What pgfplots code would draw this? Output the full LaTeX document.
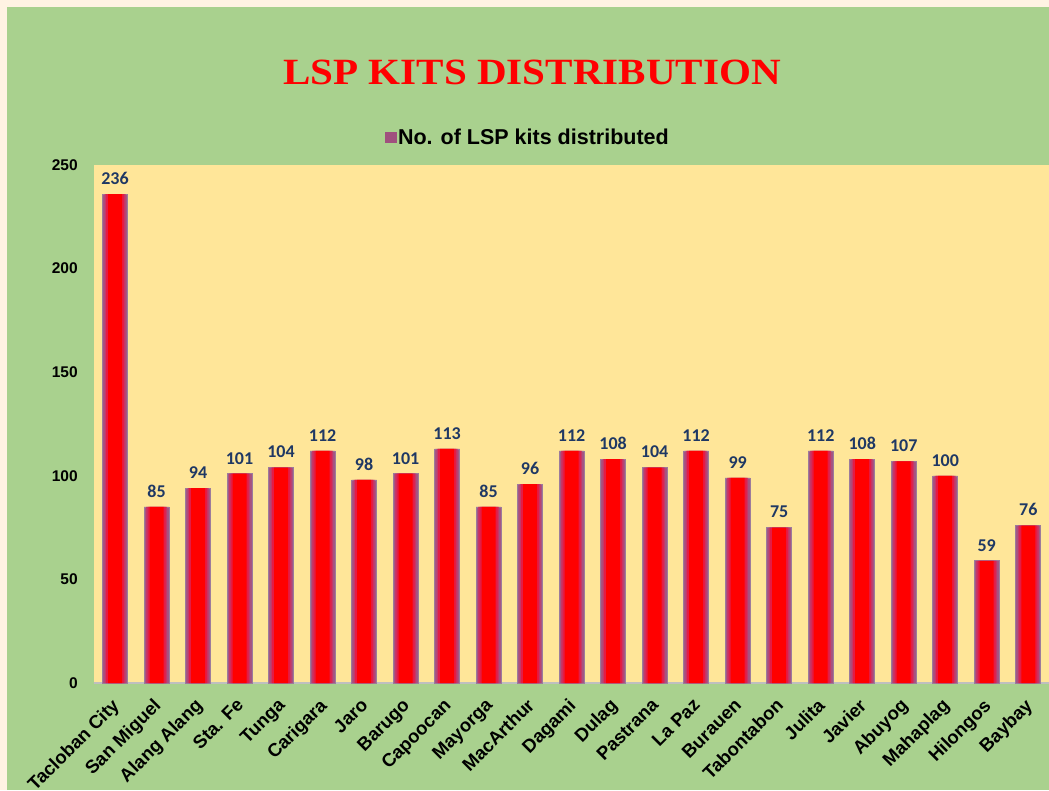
\documentclass[border=0pt]{standalone}
\usepackage{pgfplots}
\usepackage{pgfplotstable}
\pgfplotsset{compat=1.18}
\usepackage{fontspec}
\setmainfont{Liberation Sans}
\newfontfamily\titlefont{Liberation Serif}
\newfontfamily\datafont{Carlito}
\definecolor{bggreen}{HTML}{A9D18E}
\definecolor{bgcream}{HTML}{FFF3E3}
\definecolor{plotyellow}{HTML}{FFE699}
\definecolor{glowA}{HTML}{A55583}
\definecolor{glowB}{HTML}{C43868}
\definecolor{glowC}{HTML}{E31C46}
\definecolor{navy}{HTML}{1F3864}
\definecolor{legpurple}{HTML}{A0507E}
\definecolor{baredge}{HTML}{9C7B9C}
\pgfplotstableread{
x y
0 236
1 85
2 94
3 101
4 104
5 112
6 98
7 101
8 113
9 85
10 96
11 112
12 108
13 104
14 112
15 99
16 75
17 112
18 108
19 107
20 100
21 59
22 76
}\kits

\begin{document}
\begin{tikzpicture}
\path[use as bounding box] (0pt,0pt) rectangle (1049pt,790pt);
\fill[bgcream] (0pt,0pt) rectangle (1049pt,790pt);
\fill[bggreen] (7pt,0pt) rectangle (1049pt,783pt);
\node[text=red, font=\titlefont\bfseries\fontsize{37}{40}\selectfont] at (532pt,718pt) {\scalebox{1.11}[1]{LSP KITS DISTRIBUTION}};
\begin{axis}[
  at={(94.25pt,107pt)}, anchor=south west,
  scale only axis, width=954.75pt, height=518pt,
  ybar, bar shift=0pt,
  xmin=-0.5, xmax=22.5, ymin=0, ymax=250,
  ytick={0,50,...,250},
  xtick={0,...,22},
  xticklabels={Tacloban City, San Miguel, Alang Alang, Sta. Fe, Tunga, Carigara, Jaro, Barugo, Capoocan, Mayorga, MacArthur, Dagami, Dulag, Pastrana, La Paz, Burauen, Tabontabon, Julita, Javier, Abuyog, Mahaplag, Hilongos, Baybay},
  xticklabel style={rotate=45, anchor=north east, font=\bfseries\fontsize{18.5}{19}\selectfont, inner sep=1pt, xshift=-12pt, yshift=-6pt},
  yticklabel style={font=\bfseries\fontsize{15.5}{16}\selectfont, xshift=-13pt},
  /pgf/number format/assume math mode=true,
  major tick length=0pt,
  axis x line*=bottom, axis y line*=left,
  y axis line style={draw=none},
  x axis line style={draw=black!25, line width=2pt},
  axis background/.style={fill=plotyellow},
  legend style={at={(axis description cs:0.454,1.054)}, anchor=center, draw=none, fill=none, font=\bfseries\fontsize{21.5}{22}\selectfont},
  clip=false,
]
\addplot[bar width=25pt, fill=glowA, draw=baredge, line width=0.6pt, forget plot] table[x=x,y=y] {\kits};
\addplot[bar width=21pt, fill=glowB, draw=none, forget plot] table[x=x,y=y] {\kits};
\addplot[bar width=18pt, fill=glowC, draw=none, forget plot] table[x=x,y=y] {\kits};
\addplot[bar width=14pt, fill=red, draw=none, forget plot,
  nodes near coords,
  nodes near coords style={font=\datafont\bfseries\fontsize{18}{18}\selectfont, text=navy, yshift=6pt}] table[x=x,y=y] {\kits};
\addlegendimage{legend image code/.code={\fill[legpurple] (0pt,-5pt) rectangle (11pt,5pt);}}
\addlegendentry{No. of LSP kits distributed}
\end{axis}
\end{tikzpicture}
\end{document}
